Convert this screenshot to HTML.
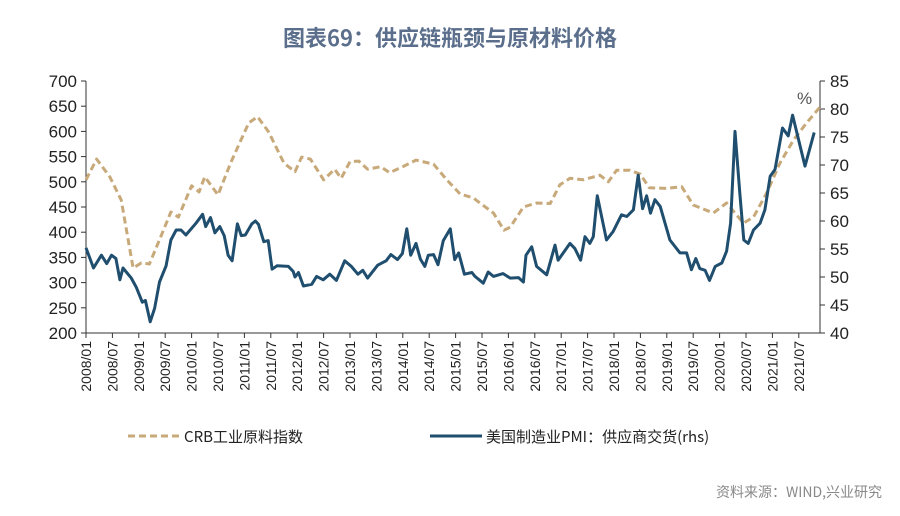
<!DOCTYPE html>
<html><head><meta charset="utf-8">
<style>
body{margin:0;background:#fff;}
svg{display:block;font-family:"Liberation Sans","Noto Sans CJK SC",sans-serif;}
</style></head>
<body>
<svg id="chart" width="900" height="516" viewBox="0 0 900 516">
<text x="450" y="46" text-anchor="middle" font-size="22" font-weight="bold" fill="#5b6f8c" font-family="'Noto Sans CJK SC',sans-serif">图表69：供应链瓶颈与原材料价格</text>
<g id="axes"></g>
<g id="series"></g>
<text x="797" y="104" font-size="17" fill="#555">%</text>
<g>
<g>
<line x1="128" y1="436" x2="180" y2="436" stroke="#c8a97a" stroke-width="3" stroke-dasharray="7,4"/>
<text x="184" y="442" font-size="15" fill="#222" font-family="'Noto Sans CJK SC',sans-serif">CRB工业原料指数</text>
</g>
<g>
<line x1="430" y1="436" x2="482" y2="436" stroke="#1f4e6e" stroke-width="3"/>
<text x="486" y="442" font-size="15" fill="#222" font-family="'Noto Sans CJK SC',sans-serif">美国制造业PMI：供应商交货(rhs)</text>
</g>
</g>
<text x="882" y="497" text-anchor="end" font-size="14" fill="#888" font-family="'Noto Sans CJK SC',sans-serif">资料来源：WIND,兴业研究</text>
</svg>
<script>
const xTickLabels=[];
for(let y=2008;y<=2021;y++){xTickLabels.push(y+"/01");xTickLabels.push(y+"/07");}
const leftTicks=[200,250,300,350,400,450,500,550,600,650,700];
const rightTicks=[40,45,50,55,60,65,70,75,80,85];
const crbMonths=[0,2.4,5.4,8,10.7,12.6,14.4,16.7,19.3,21,24,25.7,27,30,33,37,39,41.5,45,47.5,49,51,54,56.5,58,60,62,64,67,69,72,75,79,82,85,88,92.6,95,96.4,99.4,102.4,105.5,107.7,110,113,116.8,118.7,120.6,123.6,126,128,132,135.4,138,142.6,145.6,147.5,149.4,151.7,154.7,157.7,160.8,163.8,166.8];
const crbValues=[504,545,510,464,329,339,337,385,440,430,492,480,510,474,540,617,629,599,537,520,549,545,504,525,507,540,541,525,530,518,530,543,535,504,476,468,438,404,410,450,458,457,494,507,504,513,500,523,523,515,488,487,490,454,438,458,438,418,430,478,537,583,617,648];
const pmiMonths=[0,1.7,3.5,4.7,5.8,6.8,7.7,8.4,10.3,11.4,12.8,13.5,14.6,15.6,16.7,18.2,19.3,20.5,21.6,22.7,25,26.5,27.2,28.3,29.3,30.4,31.4,32.3,33.2,34.4,35.3,36.2,37.7,38.5,39.2,40.4,41.4,42.3,43.4,46,47.1,47.5,48.3,49.4,51.3,52.4,53.9,55.4,56.9,58.8,60.3,61.8,62.9,64,66.3,68.2,69.3,70.8,71.9,72.9,73.8,75,76,77,77.8,79,80,81.2,82.8,83.8,84.7,86,87.7,88.4,90.3,91.4,92.6,94.8,96.4,98.3,99.4,100,101.3,102.4,104.7,106.6,107.3,110,111.1,112.4,113.4,114.5,115.3,116.2,118.3,119.8,121.7,122.9,124.4,125.5,126.5,127.4,128.3,129.3,130.5,132.7,135,136.5,137.6,138.6,139.5,140.7,141.7,143,144.5,145.6,146.5,147.5,148.6,149.5,150.5,151.7,153.2,154.3,155.5,156.6,158.3,159.6,160.6,163.4,165.5];
const pmiValues=[55.2,51.6,53.9,52.4,53.9,53.3,49.5,51.6,49.8,48.2,45.5,45.8,42,44.4,49.1,52,56.6,58.4,58.4,57.5,59.6,61.2,59,60.6,57.9,59,57.4,53.9,52.9,59.5,57.4,57.5,59.5,60,59.4,56.3,56.5,51.4,52,51.9,51,50,50.8,48.4,48.7,50.1,49.5,50.5,49.4,52.9,51.9,50.5,51.2,49.8,52.1,52.9,54,53.1,54.2,58.6,53.9,56,53.2,51.9,53.9,54,52.2,56.5,58.6,53.1,54.3,50.5,50.8,50.1,48.9,50.9,50.1,50.6,49.8,49.9,49.1,53.9,55.4,51.9,50.4,55.7,53,56,55.1,53,57.2,56,57.2,64.5,56.6,58.1,61.1,60.8,62,68.2,62.2,64.5,61.4,63.8,62.6,56.6,54.3,54.3,51.3,53.3,51.5,51.2,49.4,51.9,52.5,54.6,59.6,76,65,56.6,56,58.4,59.6,62,68,69.2,76.6,75.2,78.9,69.8,75.8];

const X0=86,X1=820,Y0=333,Y1=81,MPX=4.4;
const xs=m=>X0+m*MPX;
const yL=v=>Y0-(v-200)/(700-200)*(Y0-Y1);
const yR=v=>Y0-(v-40)/(85-40)*(Y0-Y1);
const NS="http://www.w3.org/2000/svg";
const axes=document.getElementById('axes'),series=document.getElementById('series');
function mk(tag,attrs,parent){const e=document.createElementNS(NS,tag);for(const k in attrs)e.setAttribute(k,attrs[k]);parent.appendChild(e);return e;}
const lax=mk('line',{x1:X0,y1:Y1,x2:X0,y2:Y0,stroke:'#333','stroke-width':1},axes);


const rax=mk('line',{x1:X1,y1:Y1,x2:X1,y2:Y0,stroke:'#333','stroke-width':1},axes);


const bax=mk('line',{x1:X0,y1:Y0,x2:X1,y2:Y0,stroke:'#333','stroke-width':1},axes);


leftTicks.forEach(v=>{const y=yL(v);
 mk('line',{x1:X0-5,y1:y,x2:X0,y2:y,stroke:'#333'},axes);
 const t=mk('text',{x:X0-9,y:y+6,'text-anchor':'end','font-size':17,fill:'#222'},axes);t.textContent=v;
 
 });
rightTicks.forEach(v=>{const y=yR(v);
 mk('line',{x1:X1,y1:y,x2:X1+5,y2:y,stroke:'#333'},axes);
 const t=mk('text',{x:X1+10,y:y+6,'font-size':17,fill:'#222'},axes);t.textContent=v;
 
 });
xTickLabels.forEach((lab,i)=>{const x=xs(i*6);
 mk('line',{x1:x,y1:Y0,x2:x,y2:Y0+5,stroke:'#333'},axes);
 const t=mk('text',{x:0,y:0,'text-anchor':'end','font-size':14,fill:'#222',transform:`translate(${x+5},${Y0+8}) rotate(-90)`},axes);t.textContent=lab;
 
 });
const crbPts=crbMonths.map((m,i)=>xs(m).toFixed(1)+','+yL(crbValues[i]).toFixed(1)).join(' ');
const crb=mk('polyline',{points:crbPts,fill:'none',stroke:'#c8a97a','stroke-width':3,'stroke-dasharray':'7,4','stroke-linejoin':'round'},series);


const pmiPts=pmiMonths.map((m,i)=>xs(m).toFixed(1)+','+yR(pmiValues[i]).toFixed(1)).join(' ');
const pmi=mk('polyline',{points:pmiPts,fill:'none',stroke:'#1f4e6e','stroke-width':3,'stroke-linejoin':'round'},series);


</script>
</body></html>
